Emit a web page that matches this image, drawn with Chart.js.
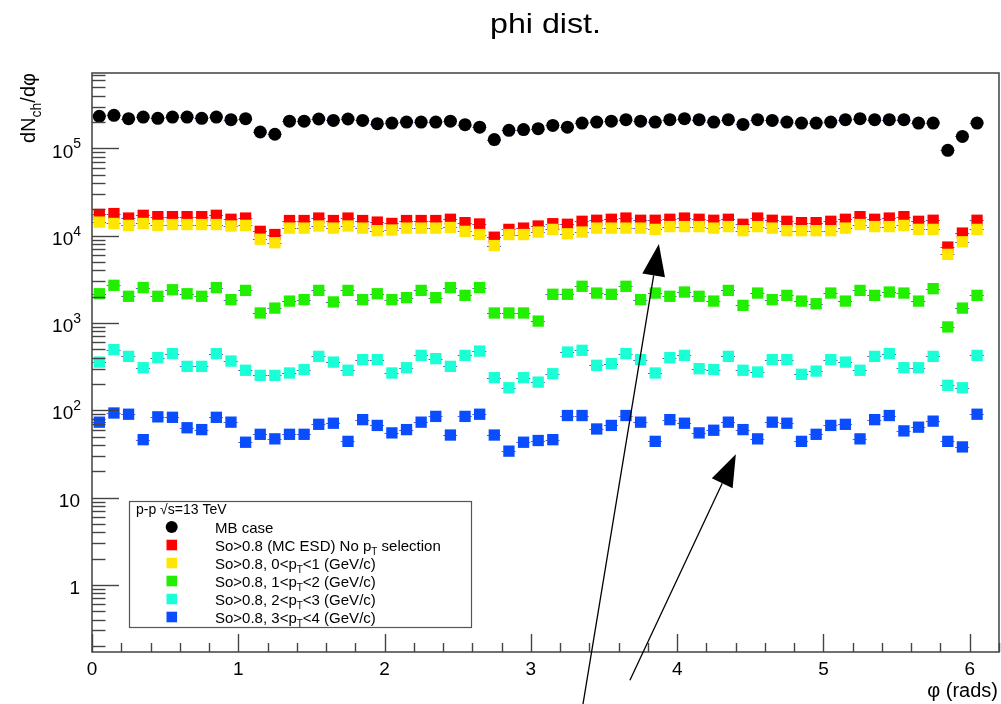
<!DOCTYPE html>
<html><head><meta charset="utf-8">
<script src="https://cdn.jsdelivr.net/npm/chart.js@4.4.1/dist/chart.umd.min.js"></script>
<style>html,body{margin:0;padding:0;background:#fff;}#wrap{width:1001px;height:704px;position:relative;}</style>
</head><body><div id="wrap"><canvas id="c" width="1001" height="704"></canvas></div>
<script>
// ---- data ----
const phiCenters = [0.05,0.15,0.25,0.35,0.45,0.55,0.65,0.75,0.85,0.95,1.05,1.15,1.25,1.35,1.45,1.55,1.65,1.75,1.85,1.95,2.05,2.15,2.25,2.35,2.45,2.55,2.65,2.75,2.85,2.95,3.05,3.15,3.25,3.35,3.45,3.55,3.65,3.75,3.85,3.95,4.05,4.15,4.25,4.35,4.45,4.55,4.65,4.75,4.85,4.95,5.05,5.15,5.25,5.35,5.45,5.55,5.65,5.75,5.85,5.95,6.05];
const mbCase = [233000,239000,219000,228000,221000,228000,228000,221000,228000,213000,219000,154000,145000,205000,205000,217000,209000,217000,209000,192000,195000,200000,200000,200000,205000,187000,175000,126000,161000,164000,168000,183000,175000,195000,200000,205000,213000,205000,200000,213000,219000,213000,200000,213000,188000,213000,209000,200000,195000,195000,200000,213000,219000,213000,213000,213000,195000,195000,95000,137000,195000];
const soNoPt = [17500,17900,15900,17100,16500,16500,16500,16500,17100,15400,15900,11200,10300,14900,14900,15900,14900,15900,14900,14300,13800,14900,14900,14900,15400,14100,13600,9600,11800,12200,12900,13700,13500,14600,15000,15400,15900,15000,15000,15400,15900,15400,15000,15400,13500,15900,15000,14600,14100,14100,14600,15400,16500,15400,15900,16500,14600,15000,7400,10700,15000];
const soPt01 = [14300,13800,13100,13800,13100,13400,13400,13400,13400,12900,13100,9100,8300,12200,12200,12900,12200,12900,12200,11400,11600,12200,12200,12200,12400,11200,10300,7700,10300,10300,11000,11800,10500,11000,12200,12200,12200,12200,11800,12700,12700,12700,12200,12700,11400,12700,12200,11400,11400,11400,11400,12200,13400,12700,12700,13100,11800,11800,6100,8500,11800];
const soPt12 = [2160,2700,2020,2540,2020,2400,2160,2020,2540,1850,2360,1300,1480,1780,1850,2360,1740,2360,1850,2160,1850,1950,2360,1950,2540,2070,2540,1300,1300,1300,1050,2130,2130,2630,2200,2130,2630,1850,2200,2020,2260,2020,1780,2360,1590,2200,1850,2070,1780,1660,2200,1780,2360,2070,2260,2200,1780,2470,900,1480,2070];
const soPt23 = [356,494,414,307,400,445,318,318,445,366,287,251,251,267,292,414,356,287,380,380,267,307,425,390,318,425,476,236,181,236,210,262,464,486,327,342,445,380,267,400,425,299,292,414,287,274,380,380,258,281,380,356,287,414,445,307,307,414,193,181,425];
const soPt34 = [73,93,90,46,84,83,63,60,83,73,43,53,47,53,53,69,71,44,78,67,55,60,73,85,52,85,90,52,34,43,45,46,87,87,61,67,87,73,44,78,71,55,59,73,60,47,73,71,44,53,67,69,47,78,87,58,64,75,44,38,90];
const binHalfWidth = 0.05;

const seriesLabels = ['MB case','So>0.8 (MC ESD) No p_{T} selection','So>0.8, 0<p_{T}<1 (GeV/c)','So>0.8, 1<p_{T}<2 (GeV/c)','So>0.8, 2<p_{T}<3 (GeV/c)','So>0.8, 3<p_{T}<4 (GeV/c)'];
const seriesValues = [mbCase, soNoPt, soPt01, soPt12, soPt23, soPt34];
const seriesColors = ['#000000','#ff0000','#ffe600','#22ee00','#1affd5','#0a4dff'];
const seriesStyles = ['circle','rect','rect','rect','rect','rect'];
const seriesOrder = [0,5,4,3,2,1];

const xTickValues = [0,1,2,3,4,5,6];
const yTickValues = [1,10,100,1000,10000,100000];
const yTickExponents = ['','', '2','3','4','5'];

const chartTitle = 'phi dist.';
const xAxisTitle = 'φ (rads)';
const yAxisTitle = 'dN_{ch}/dφ';
const legendHeader = 'p-p √s=13 TeV';

// annotation arrows (tail -> tip), in data coordinates
const arrowTails = [{x:3.356, y:0.0428},{x:3.677, y:0.0805}];
const arrowTips  = [{x:3.875, y:8050},{x:4.401, y:31.3}];

const FONT = '"Liberation Sans", Arial, Helvetica, sans-serif';

function richParts(str){
  const parts=[]; const re=/_\{([^}]*)\}/g; let last=0, m;
  while((m=re.exec(str))){ if(m.index>last) parts.push({t:str.slice(last,m.index),sub:false}); parts.push({t:m[1],sub:true}); last=re.lastIndex; }
  if(last<str.length) parts.push({t:str.slice(last),sub:false});
  return parts;
}
function drawRich(ctx,str,x,y,size,align){
  const parts=richParts(str); const subSize=Math.round(size*0.68);
  let w=0; parts.forEach(p=>{ctx.font=(p.sub?subSize:size)+'px '+FONT; p.w=ctx.measureText(p.t).width; w+=p.w;});
  let cx = align==='right'? x-w : (align==='center'? x-w/2 : x);
  ctx.textAlign='left'; ctx.textBaseline='alphabetic';
  parts.forEach(p=>{ctx.font=(p.sub?subSize:size)+'px '+FONT; ctx.fillText(p.t,cx,y+(p.sub?size*0.28:0)); cx+=p.w;});
}

const rootPlugin = {
  id:'rootStyle',
  beforeDatasetsDraw(chart){
    const {ctx, chartArea:a, scales:{x,y}} = chart;
    ctx.save();
    ctx.beginPath(); ctx.rect(a.left,a.top,a.right-a.left,a.bottom-a.top); ctx.clip();
    ctx.strokeStyle='rgba(60,60,200,0.85)'; ctx.lineWidth=1; ctx.setLineDash([2,2]);
    chart.data.datasets.forEach(ds=>{
      ds.data.forEach(p=>{
        const py=Math.round(y.getPixelForValue(p.y))+0.5;
        ctx.beginPath(); ctx.moveTo(x.getPixelForValue(p.x-binHalfWidth),py); ctx.lineTo(x.getPixelForValue(p.x+binHalfWidth),py); ctx.stroke();
      });
    });
    ctx.restore();
  },
  afterDraw(chart){
    const {ctx, chartArea:a, scales:{x,y}} = chart;
    ctx.save();
    // frame
    ctx.strokeStyle='#4d4d4d'; ctx.lineWidth=1.6;
    ctx.strokeRect(a.left,a.top,a.right-a.left,a.bottom-a.top);
    // x ticks (inward)
    ctx.lineWidth=1.4; ctx.strokeStyle='#444';
    for(let k=0;k<=31;k++){
      const v=k*0.2; if(v>x.max+1e-9) break;
      const px=Math.round(x.getPixelForValue(v))+0.5; const major=(k%5===0);
      ctx.beginPath(); ctx.moveTo(px,a.bottom); ctx.lineTo(px,a.bottom-(major?18:9)); ctx.stroke();
    }
    // y ticks (inward)
    for(let e=-1;e<=5;e++){
      for(let m=1;m<=9;m++){
        const v=m*Math.pow(10,e); if(v<y.min||v>y.max) continue;
        const py=Math.round(y.getPixelForValue(v))+0.5;
        ctx.beginPath(); ctx.moveTo(a.left,py); ctx.lineTo(a.left+(m===1?27:13.5),py); ctx.stroke();
      }
    }
    // x labels
    ctx.fillStyle='#000'; ctx.font='19px '+FONT; ctx.textAlign='center'; ctx.textBaseline='middle';
    xTickValues.forEach(v=>{ ctx.fillText(String(v), x.getPixelForValue(v), 670); });
    // y labels
    yTickValues.forEach((v,i)=>{
      const py=y.getPixelForValue(v); const ex=yTickExponents[i];
      ctx.textBaseline='middle'; ctx.textAlign='right';
      if(ex===''){ ctx.font='19px '+FONT; ctx.fillText(String(v),80,py+4); }
      else {
        ctx.font='14px '+FONT; const ew=ctx.measureText(ex).width;
        ctx.fillText(ex,81,py-4);
        ctx.font='19px '+FONT; ctx.fillText('10',81-ew,py+4);
      }
    });
    // axis titles
    ctx.fillStyle='#000';
    drawRich(ctx,xAxisTitle,998,697,20,'right');
    ctx.save(); ctx.translate(35,a.top); ctx.rotate(-Math.PI/2);
    drawRich(ctx,yAxisTitle,0,0,20,'right');
    ctx.restore();
    // chart title
    ctx.save(); ctx.translate((a.left+a.right)/2,33); ctx.scale(1.15,1);
    ctx.font='28px '+FONT; ctx.textAlign='center'; ctx.textBaseline='alphabetic'; ctx.fillText(chartTitle,0,0);
    ctx.restore();
    // legend
    const lx=129.5, ly=501.5, lw=342, lh=126;
    ctx.fillStyle='#fff'; ctx.fillRect(lx,ly,lw,lh);
    ctx.strokeStyle='#555'; ctx.lineWidth=1.2; ctx.strokeRect(lx,ly,lw,lh);
    ctx.fillStyle='#000'; ctx.font='14px '+FONT; ctx.textAlign='left'; ctx.textBaseline='alphabetic';
    ctx.fillText(legendHeader,136,514);
    seriesLabels.forEach((lab,i)=>{
      const cy=527+i*18;
      ctx.fillStyle=seriesColors[i];
      if(seriesStyles[i]==='circle'){ ctx.beginPath(); ctx.arc(171.7,cy,6,0,Math.PI*2); ctx.fill(); }
      else ctx.fillRect(166.5,cy-5.3,10.6,10.6);
      ctx.fillStyle='#000';
      drawRich(ctx,lab,215,cy+5.5,15,'left');
    });
    // arrows
    ctx.strokeStyle='#000'; ctx.fillStyle='#000'; ctx.lineWidth=1.3;
    arrowTips.forEach((tip,i)=>{
      const x0=x.getPixelForValue(arrowTails[i].x), y0=y.getPixelForValue(arrowTails[i].y);
      const x1=x.getPixelForValue(tip.x), y1=y.getPixelForValue(tip.y);
      const ang=Math.atan2(y1-y0,x1-x0), L=32, W=11.5, c=Math.cos(ang), s=Math.sin(ang);
      const bx=x1-L*c, by=y1-L*s;
      ctx.beginPath(); ctx.moveTo(x0,y0); ctx.lineTo(bx,by); ctx.stroke();
      ctx.beginPath(); ctx.moveTo(x1,y1); ctx.lineTo(bx+W*s,by-W*c); ctx.lineTo(bx-W*s,by+W*c); ctx.closePath(); ctx.fill();
    });
    ctx.restore();
  }
};

const datasets = seriesValues.map((vals,i)=>({
  label: seriesLabels[i],
  data: phiCenters.map((p,j)=>({x:p, y:vals[j]})),
  pointStyle: seriesStyles[i],
  pointRadius: seriesStyles[i]==='circle'?6.5:8,
  pointBackgroundColor: seriesColors[i],
  pointBorderColor: seriesColors[i],
  pointBorderWidth: 0,
  showLine:false,
  order: seriesOrder[i]
}));

new Chart(document.getElementById('c'),{
  type:'scatter',
  data:{datasets},
  options:{
    responsive:false, animation:false, devicePixelRatio:1,
    layout:{autoPadding:false, padding:{left:92,right:2,top:73,bottom:52}},
    plugins:{legend:{display:false},tooltip:{enabled:false},title:{display:false}},
    scales:{
      x:{type:'linear',min:0,max:6.2,grid:{display:false,drawTicks:false},ticks:{display:false},border:{display:false}},
      y:{type:'logarithmic',min:0.17,max:730000,grid:{display:false,drawTicks:false},ticks:{display:false},border:{display:false}}
    }
  },
  plugins:[rootPlugin]
});
</script></body></html>
